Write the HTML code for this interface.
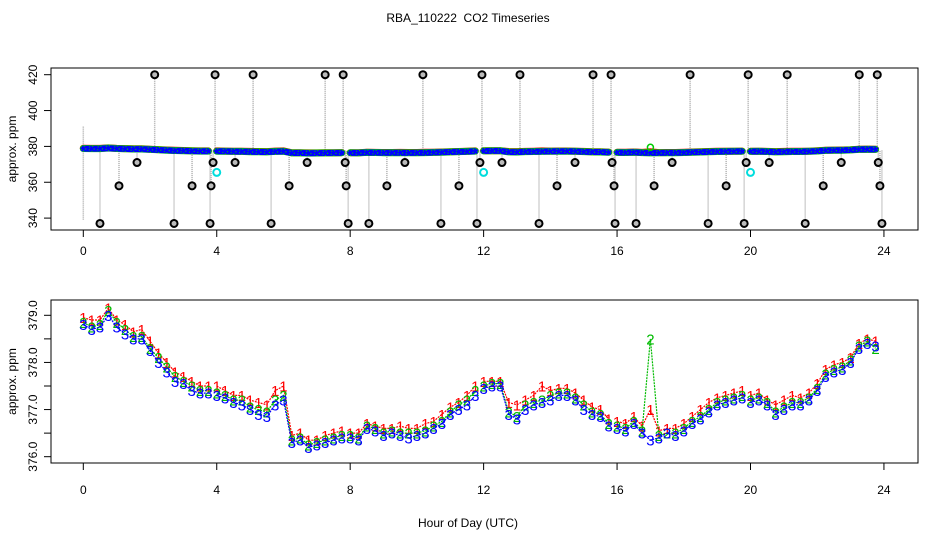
<!DOCTYPE html>
<html><head><meta charset="utf-8">
<style>
html,body{margin:0;padding:0;background:#fff;}
svg{display:block;font-family:"Liberation Sans",sans-serif;}
</style></head>
<body>
<svg id="chart" width="936" height="540" viewBox="0 0 936 540" xmlns="http://www.w3.org/2000/svg">
<text x="468" y="22" text-anchor="middle" font-size="12" style="white-space:pre">RBA_110222  CO2 Timeseries</text>
<g id="top"></g>
<g id="bot"></g>
<text x="468" y="527" text-anchor="middle" font-size="12">Hour of Day (UTC)</text>
</svg>
<script>
// ---- data ----
const hours = [0,0.25,0.5,0.75,1,1.25,1.5,1.75,2,2.25,2.5,2.75,3,3.25,3.5,3.75,4,4.25,4.5,4.75,5,5.25,5.5,5.75,6,6.25,6.5,6.75,7,7.25,7.5,7.75,8,8.25,8.5,8.75,9,9.25,9.5,9.75,10,10.25,10.5,10.75,11,11.25,11.5,11.75,12,12.25,12.5,12.75,13,13.25,13.5,13.75,14,14.25,14.5,14.75,15,15.25,15.5,15.75,16,16.25,16.5,16.75,17,17.25,17.5,17.75,18,18.25,18.5,18.75,19,19.25,19.5,19.75,20,20.25,20.5,20.75,21,21.25,21.5,21.75,22,22.25,22.5,22.75,23,23.25,23.5,23.75];
const series3 = [378.8,378.7,378.75,379.0,378.75,378.6,378.5,378.5,378.25,378.0,377.8,377.6,377.55,377.4,377.35,377.35,377.3,377.25,377.15,377.1,377.0,376.9,376.85,377.1,377.2,376.3,376.35,376.2,376.25,376.3,376.35,376.4,376.4,376.35,376.6,376.55,376.45,376.5,376.45,376.4,376.45,376.5,376.6,376.7,376.9,377.0,377.1,377.3,377.45,377.5,377.5,376.9,376.8,377.0,377.1,377.15,377.2,377.3,377.3,377.2,377.0,376.9,376.85,376.65,376.6,376.55,376.7,376.5,376.35,376.4,376.5,376.45,376.55,376.7,376.8,376.95,377.1,377.15,377.2,377.25,377.15,377.2,377.1,376.9,377.0,377.1,377.1,377.2,377.4,377.7,377.8,377.85,378.0,378.3,378.4,378.35];
const series1 = [378.95,378.9,378.9,379.15,378.9,378.8,378.65,378.7,378.45,378.2,378.0,377.8,377.7,377.6,377.5,377.5,377.5,377.4,377.3,377.3,377.2,377.15,377.1,377.4,377.5,376.45,376.5,376.35,376.35,376.45,376.5,376.55,376.5,376.5,376.7,376.65,376.6,376.6,376.65,376.6,376.6,376.7,376.75,376.9,377.05,377.15,377.3,377.5,377.6,377.6,377.6,377.15,377.1,377.2,377.3,377.5,377.4,377.45,377.45,377.35,377.2,377.05,377.0,376.8,376.75,376.7,376.85,376.65,377.0,376.55,376.6,376.6,376.7,376.85,377.0,377.15,377.25,377.3,377.35,377.4,377.3,377.35,377.2,377.1,377.2,377.3,377.25,377.35,377.55,377.85,377.95,378.0,378.1,378.4,378.5,378.45];
const series2 = [378.85,378.75,378.8,379.1,378.85,378.7,378.55,378.55,378.3,378.1,377.9,377.7,377.6,377.5,377.4,377.4,377.35,377.3,377.2,377.2,377.05,377.0,376.95,377.2,377.3,376.35,376.4,376.25,376.3,376.35,376.4,376.45,376.45,376.4,376.65,376.6,376.5,376.55,376.5,376.5,376.5,376.55,376.65,376.75,376.95,377.1,377.2,377.4,377.5,377.55,377.55,376.95,376.85,377.1,377.15,377.2,377.3,377.35,377.35,377.25,377.1,376.95,376.9,376.7,376.65,376.6,376.75,376.55,378.5,376.45,376.5,376.5,376.6,376.75,376.85,377.0,377.15,377.2,377.25,377.3,377.2,377.25,377.15,376.95,377.05,377.15,377.15,377.25,377.45,377.75,377.85,377.9,378.05,378.35,378.45,378.3];
const outlierHours = [2.14,0.5,1.07,1.61,2.72,3.26,3.8,3.83,3.89,3.95,4.55,5.09,5.63,6.17,6.71,7.25,7.79,7.85,7.88,7.94,8.56,9.1,9.64,10.18,10.72,11.26,11.8,11.89,11.95,12.55,13.09,13.66,14.2,14.74,15.28,15.82,15.85,15.91,15.94,16.57,17.11,17.65,18.19,18.73,19.27,19.81,19.87,19.93,20.56,21.1,21.64,22.18,22.72,23.26,23.8,23.83,23.88,23.94];
const outlierValues = [420,337,358,371,337,358,337,358,371,420,371,420,337,358,371,420,420,371,358,337,337,358,371,420,337,358,337,371,420,371,420,337,358,371,420,420,371,358,337,337,358,371,420,337,358,337,371,420,371,420,337,358,371,420,420,371,358,337];
const cyanHours = [4.0,12.0,20.0];
const cyanValues = [365.5,365.5,365.5];
const topTicksY = [340,360,380,400,420];
const botTicksY = [376,376.5,377,377.5,378,378.5,379];
const botLabelsY = ["376.0","","377.0","","378.0","","379.0"];
const ticksX = [0,4,8,12,16,20,24];
const gaps = [3.9,7.9,11.9,15.9,19.9];

// ---- axes ----
const L=51, R=918;
const xs = h => 83.3 + h*33.36;
const yTop = v => 74.7 + (420-v)*1.7925;
const yBot = v => 315.3 + (379-v)*47.13;
const NS="http://www.w3.org/2000/svg";
function mk(parent, tag, attrs, txt){
  const e=document.createElementNS(NS,tag);
  for(const k in attrs) e.setAttribute(k,attrs[k]);
  if(txt!==undefined) e.textContent=txt;
  parent.appendChild(e); return e;
}
function segments(ys){
  const segs=[]; let cur=[];
  hours.forEach((h,i)=>{
    if(i>0 && gaps.some(g=>hours[i-1]<g && h>g)){segs.push(cur);cur=[];}
    cur.push(xs(h).toFixed(1)+","+ys[i].toFixed(1));
  });
  segs.push(cur); return segs;
}
function axes(g, top, bottom, yfun, ticks, labels, lblY){
  const box=mk(g,'rect',{x:L,y:top,width:R-L,height:bottom-top,fill:'none',stroke:'#000','stroke-width':1});
  
  
  ticksX.forEach(t=>{
    const x=xs(t);
    const tk=mk(g,'line',{x1:x,x2:x,y1:bottom,y2:bottom+7,stroke:'#000'});
    
    
    const lb=mk(g,'text',{x:x,y:lblY,'text-anchor':'middle','font-size':12},String(t));
    
    
  });
  ticks.forEach((v,i)=>{
    const y=yfun(v);
    const tk=mk(g,'line',{x1:L-7,x2:L,y1:y,y2:y,stroke:'#000'});
    
    
    if(labels[i]){
      const lb=mk(g,'text',{x:37,y:y,'text-anchor':'middle','font-size':12,transform:`rotate(-90 37 ${y})`},labels[i]);
      
      
    }
  });
  const cy=(top+bottom)/2;
  const yt=mk(g,'text',{x:16,y:cy,'text-anchor':'middle','font-size':12,transform:`rotate(-90 16 ${cy})`},'approx. ppm');
  
  
}

// ---- top panel ----
const gt=document.getElementById('top');
axes(gt,68,230,yTop,topTicksY,topTicksY.map(String),255);
const ln0=mk(gt,'line',{x1:xs(0),x2:xs(0),y1:yTop(391),y2:yTop(339),stroke:'#aaa','stroke-width':1.5,'stroke-dasharray':'1,1'});


outlierHours.forEach((h,i)=>{
  const ln=mk(gt,'line',{x1:xs(h),x2:xs(h),y1:yTop(outlierValues[i]),y2:yTop(378),stroke:'#aaa','stroke-width':1.5,'stroke-dasharray':'1,1'});
  
  
});
[[series1,'#f00',7],[series2.map((v,i)=>i===68?series3[i]:v),'#0c0',7],[series3,'#00f',6]].forEach(([s,c,w])=>{
  segments(s.map(yTop)).forEach(seg=>{
    const p=mk(gt,'polyline',{points:seg.join(' '),fill:'none',stroke:c,'stroke-width':w,'stroke-linecap':'round'});
    
    
  });
});
series3.forEach((v,i)=>{
  const c=mk(gt,'circle',{cx:xs(hours[i]),cy:yTop(v),r:2.5,fill:'none',stroke:'#0c0','stroke-width':1,'stroke-dasharray':'1,2'});
  
  
});
const sp=mk(gt,'circle',{cx:xs(17),cy:yTop(379.5),r:3,fill:'none',stroke:'#0c0','stroke-width':1.5});


outlierHours.forEach((h,i)=>{
  const c=mk(gt,'circle',{cx:xs(h),cy:yTop(outlierValues[i]),r:3.5,fill:'#bbb',stroke:'#000','stroke-width':2});
  
  
});
cyanHours.forEach((h,i)=>{
  const c=mk(gt,'circle',{cx:xs(h),cy:yTop(cyanValues[i]),r:3.5,fill:'none',stroke:'#0dd','stroke-width':2});
  
  
});

// ---- bottom panel ----
const gb=document.getElementById('bot');
axes(gb,300,463,yBot,botTicksY,botLabelsY,494);
[[series1,'#f00','1'],[series2,'#0b0','2'],[series3,'#00f','3']].forEach(([s,c,ch])=>{
  segments(s.map(yBot)).forEach(seg=>{
    const p=mk(gb,'polyline',{points:seg.join(' '),fill:'none',stroke:c,'stroke-width':1.2,'stroke-dasharray':'2,1'});
    
    
  });
  s.forEach((v,i)=>{
    const t=mk(gb,'text',{x:xs(hours[i]),y:yBot(v)+5.5,'text-anchor':'middle','font-size':15,fill:c},ch);
    
    
  });
});
</script>
</body></html>
